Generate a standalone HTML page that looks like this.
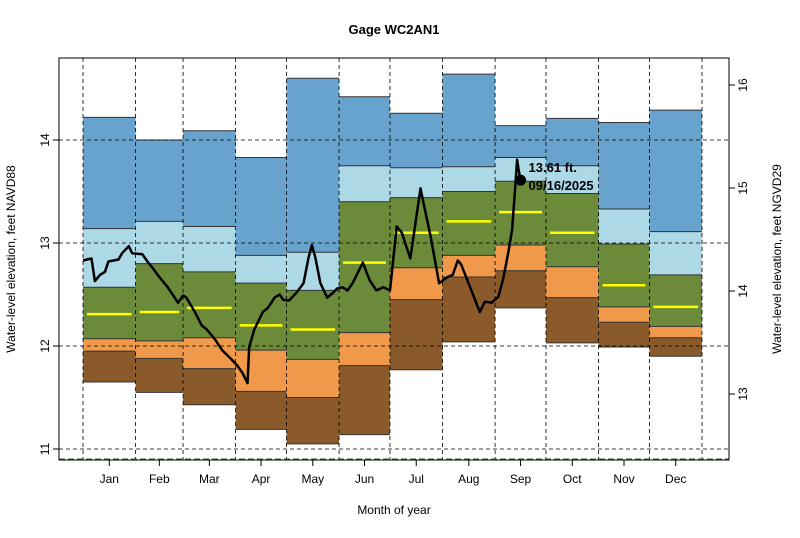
<!DOCTYPE html>
<html><head><meta charset="utf-8"><style>
body{margin:0;background:#fff;}
svg{font-family:"Liberation Sans",sans-serif;}
</style></head><body>
<svg width="800" height="533" xmlns="http://www.w3.org/2000/svg">
<rect width="800" height="533" fill="#fff"/>
<g id="bands"></g>
<g id="grid"></g>
<g id="series"></g>
<g id="axes"></g>
<text x="394" y="34" text-anchor="middle" font-size="13" font-weight="bold">Gage WC2AN1</text>
<text x="394" y="514" text-anchor="middle" font-size="12">Month of year</text>
<text transform="translate(15,259) rotate(-90)" text-anchor="middle" font-size="12">Water-level elevation, feet NAVD88</text>
<text transform="translate(781,259) rotate(-90)" text-anchor="middle" font-size="12">Water-level elevation, feet NGVD29</text>
</svg>
<script>
const months=["Jan","Feb","Mar","Apr","May","Jun","Jul","Aug","Sep","Oct","Nov","Dec"];
const monthStart=[0,31,59,90,120,151,181,212,243,273,304,334,365];
const pMax=[14.22,14.00,14.09,13.83,14.60,14.42,14.26,14.64,14.14,14.21,14.17,14.29];
const p90=[13.14,13.21,13.16,12.88,12.91,13.75,13.73,13.74,13.83,13.75,13.33,13.11];
const p75=[12.57,12.80,12.72,12.61,12.54,13.40,13.44,13.50,13.60,13.48,12.99,12.69];
const p50=[12.31,12.33,12.37,12.20,12.16,12.81,13.10,13.21,13.30,13.10,12.59,12.38];
const p25=[12.07,12.05,12.08,11.96,11.87,12.13,12.76,12.88,12.98,12.77,12.38,12.19];
const p10=[11.95,11.88,11.78,11.56,11.50,11.81,12.45,12.67,12.73,12.47,12.23,12.08];
const pMin=[11.65,11.55,11.43,11.19,11.05,11.14,11.77,12.04,12.37,12.03,11.99,11.90];
const dayOfYear=[0,5,7,10,13,15,18,21,23,27,29,35,38,41,45,50,56,59,61,66,70,73,78,82,87,91,94,97,98,101,106,109,113,116,118,121,122,126,130,133,135,137,140,144,147,150,153,156,159,165,169,173,177,181,185,188,193,199,200,205,210,215,218,221,223,229,234,237,241,245,248,251,253,255,256,257,258];
const level=[12.83,12.85,12.63,12.69,12.72,12.82,12.83,12.84,12.90,12.97,12.90,12.89,12.82,12.76,12.67,12.57,12.42,12.49,12.47,12.33,12.20,12.16,12.06,11.96,11.88,11.81,11.74,11.64,11.99,12.16,12.33,12.37,12.47,12.50,12.45,12.44,12.45,12.52,12.61,12.86,12.98,12.86,12.61,12.47,12.51,12.56,12.57,12.54,12.61,12.81,12.64,12.54,12.57,12.54,13.16,13.10,12.85,13.53,13.45,13.06,12.61,12.67,12.69,12.83,12.79,12.54,12.33,12.43,12.42,12.48,12.67,12.93,13.13,13.58,13.81,13.70,13.61];
const leftTicks=[11,12,13,14];
const rightTicks=[13,14,15,16];
const datumOffset=1.466;
const lastLabel="13.61 ft.";
const lastDate="09/16/2025";

const NS="http://www.w3.org/2000/svg";
const L=59,R=729,T=58,B=460;
const X=d=>83+d*(702-83)/365;
const Y=v=>140-(v-14)*103;
function mk(tag,attrs,parent){const e=document.createElementNS(NS,tag);for(const k in attrs)e.setAttribute(k,attrs[k]);parent.appendChild(e);return e;}
const bands=document.getElementById('bands'),grid=document.getElementById('grid'),series=document.getElementById('series'),axes=document.getElementById('axes');
const layers=[[pMax,p90,"#67a3cc"],[p90,p75,"#add8e6"],[p75,p25,"#6b8a3a"],[p25,p10,"#f0994a"],[p10,pMin,"#8b5a2b"]];
for(let m=0;m<12;m++){
  const x0=X(monthStart[m]),x1=X(monthStart[m+1]);
  layers.forEach(([hi,lo,c])=>{
    const r=mk('rect',{x:x0,y:Y(hi[m]),width:x1-x0,height:Y(lo[m])-Y(hi[m]),fill:c},bands);
    
    
  });
  [pMax,p90,p75,p25,p10,pMin].forEach(a=>{
    const l=mk('line',{x1:x0,x2:x1,y1:Y(a[m]),y2:Y(a[m]),stroke:"#333","stroke-width":1},bands);
    
    
  });
  const md=mk('line',{x1:x0+4,x2:x1-4,y1:Y(p50[m]),y2:Y(p50[m]),stroke:"#ffff00","stroke-width":2.5},bands);
  
  
  const t=mk('text',{x:(x0+x1)/2,y:483,"text-anchor":"middle","font-size":12},axes);
  t.textContent=months[m];
  
  
  mk('line',{x1:(x0+x1)/2,x2:(x0+x1)/2,y1:B,y2:B+6,stroke:"#000"},axes);
}
monthStart.forEach(d=>{
  const g=mk('line',{x1:X(d),x2:X(d),y1:T,y2:B,stroke:"#000","stroke-dasharray":"4,3","stroke-width":0.8},grid);
  
  
});
leftTicks.forEach(v=>{
  const g=mk('line',{x1:L,x2:R,y1:Y(v),y2:Y(v),stroke:"#000","stroke-dasharray":"4,3","stroke-width":0.8},grid);
  
  
  mk('line',{x1:L-6,x2:L,y1:Y(v),y2:Y(v),stroke:"#000"},axes);
  const t=mk('text',{transform:`translate(${L-10},${Y(v)}) rotate(-90)`,"text-anchor":"middle","font-size":12},axes);
  t.textContent=v;
  
  
});
rightTicks.forEach(v=>{
  const y=Y(v-datumOffset);
  mk('line',{x1:R,x2:R+6,y1:y,y2:y,stroke:"#000"},axes);
  const t=mk('text',{transform:`translate(${R+18},${y}) rotate(-90)`,"text-anchor":"middle","font-size":12},axes);
  t.textContent=v;
  
  
});
mk('line',{x1:L,x2:R,y1:B-1,y2:B-1,stroke:"#2e6b2e","stroke-dasharray":"6,3","stroke-width":1},grid);
const pts=dayOfYear.map((d,i)=>X(d).toFixed(1)+','+Y(level[i]).toFixed(1)).join(' ');
const pl=mk('polyline',{points:pts,fill:"none",stroke:"#000","stroke-width":2.5,"stroke-linejoin":"round"},series);


const li=dayOfYear.length-1;
const dot=mk('circle',{cx:X(dayOfYear[li]),cy:Y(level[li]),r:5.5,fill:"#000"},series);


const t1=mk('text',{x:X(dayOfYear[li])+8,y:Y(level[li])-8,"font-size":13,"font-weight":"bold"},series);
t1.textContent=lastLabel;


const t2=mk('text',{x:X(dayOfYear[li])+8,y:Y(level[li])+10,"font-size":13,"font-weight":"bold"},series);
t2.textContent=lastDate;


const fr=mk('rect',{x:L,y:T,width:R-L,height:B-T,fill:"none",stroke:"#000","stroke-width":1},axes);


</script>
</body></html>
